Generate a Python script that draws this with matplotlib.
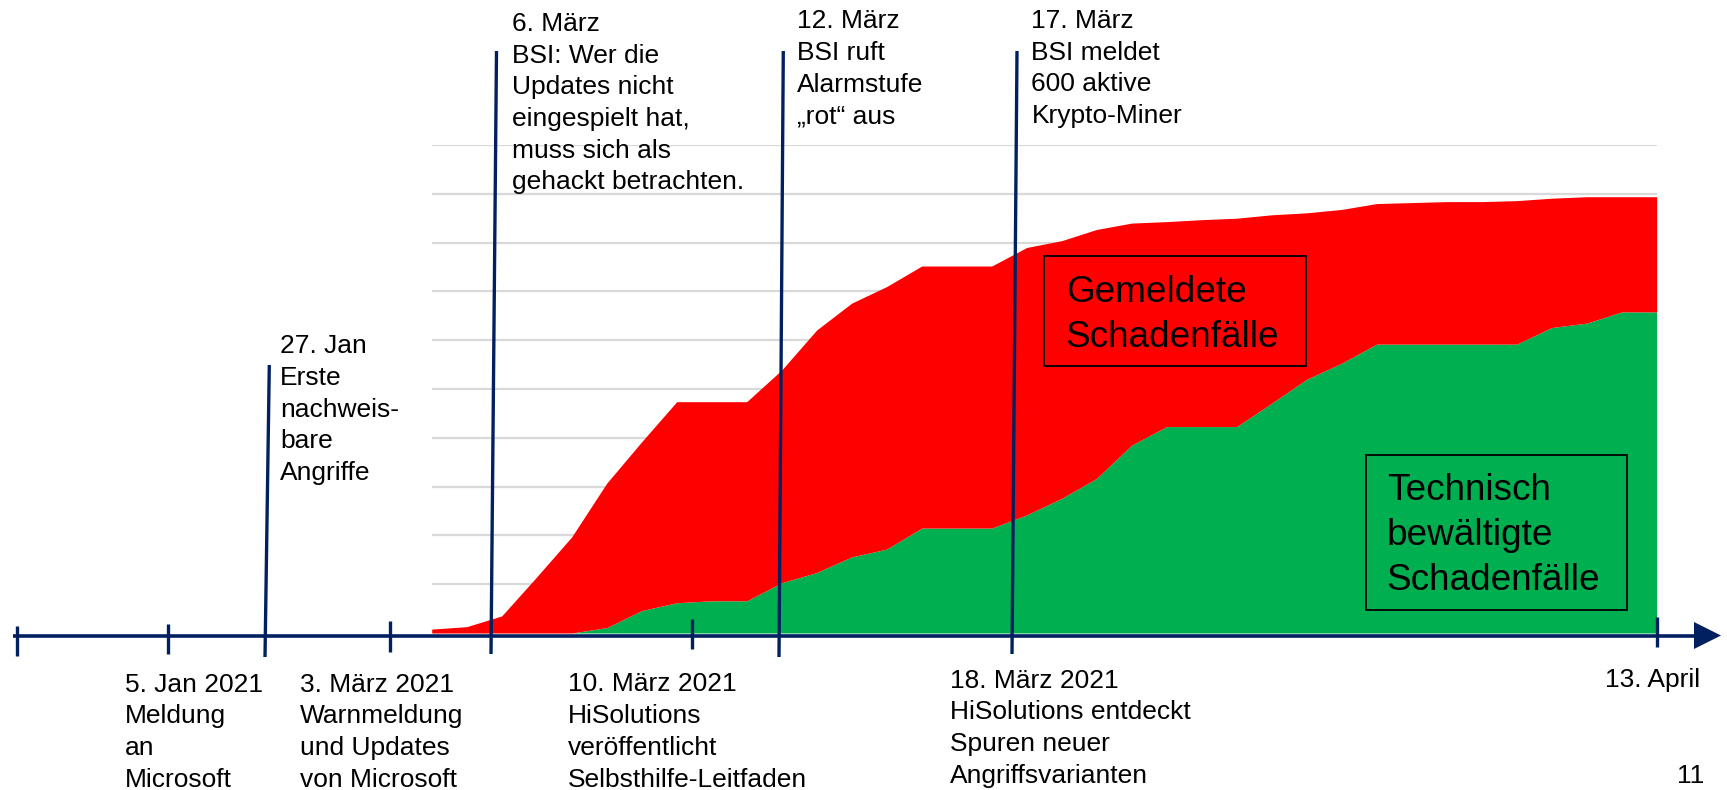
import numpy as np
import matplotlib
matplotlib.use("Agg")
import matplotlib.pyplot as plt
from matplotlib.patches import Polygon, Rectangle

# ---------------- data ----------------
# cumulative reported damage cases (total, red) and technically resolved (green), per report
reported = [0.08, 0.13, 0.35, 1.15, 1.97, 3.07, 3.92, 4.74, 4.74, 4.74,
            5.39, 6.21, 6.76, 7.10, 7.52, 7.52, 7.52, 7.90, 8.04, 8.27,
            8.40, 8.43, 8.47, 8.50, 8.57, 8.61, 8.68, 8.80, 8.82, 8.84,
            8.84, 8.86, 8.91, 8.94, 8.94, 8.94]
resolved = [0.0, 0.0, 0.0, 0.0, 0.0, 0.11, 0.46, 0.62, 0.66, 0.66,
            1.03, 1.24, 1.56, 1.72, 2.15, 2.15, 2.15, 2.42, 2.76, 3.17,
            3.85, 4.23, 4.23, 4.23, 4.71, 5.20, 5.53, 5.92, 5.92, 5.92,
            5.92, 5.92, 6.26, 6.35, 6.58, 6.58]
grid_levels = list(range(1, 11))

top_events = [
    ["27. Jan", "Erste", "nachweis-", "bare", "Angriffe"],
    ["6. März", "BSI: Wer die", "Updates nicht", "eingespielt hat,",
     "muss sich als", "gehackt betrachten."],
    ["12. März", "BSI ruft", "Alarmstufe", "\u201erot\u201c aus"],
    ["17. März", "BSI meldet", "600 aktive", "Krypto-Miner"],
]
bottom_events = [
    ["5. Jan 2021", "Meldung", "an", "Microsoft"],
    ["3. März 2021", "Warnmeldung", "und Updates", "von Microsoft"],
    ["10. März 2021", "HiSolutions", "veröffentlicht", "Selbsthilfe-Leitfaden"],
    ["18. März 2021", "HiSolutions entdeckt", "Spuren neuer", "Angriffsvarianten"],
]
end_label = "13. April"
page_number = "11"
label_reported = ["Gemeldete", "Schadenfälle"]
label_resolved = ["Technisch", "bewältigte", "Schadenfälle"]

# ---------------- styling / layout ----------------
W, H = 1727, 790
NAVY = "#002060"
RED = "#FF0000"
GREEN = "#00B050"
FONT = ["Liberation Sans", "DejaVu Sans"]
SMALL = 19
BIG = 26.6

fig = plt.figure(figsize=(W / 100, H / 100), dpi=100)

# area chart axes (pixel box of the plot area)
x0, x1 = 431.7, 1656.7
y_base, y_top = 633.0, 145.0
ax = fig.add_axes([x0 / W, (H - y_base) / H, (x1 - x0) / W, (y_base - y_top) / H])
xi = np.arange(len(reported))
ax.set_xlim(0, len(reported) - 1)
ax.set_ylim(0, 10)
ax.hlines(grid_levels, 0, len(reported) - 1, color="#d9d9d9", lw=1.6, zorder=0)
ax.fill_between(xi, 0, resolved, color=GREEN, lw=0, zorder=2)
ax.fill_between(xi, resolved, reported, color=RED, lw=0, zorder=2)
ax.axis("off")

# overlay axes in pixel coordinates for the timeline and annotations
ov = fig.add_axes([0, 0, 1, 1])
ov.set_xlim(0, W)
ov.set_ylim(H, 0)
ov.axis("off")
ov.patch.set_alpha(0)

axis_y = 635.5
ov.plot([13, 1700], [axis_y, axis_y], color=NAVY, lw=2.6, solid_capstyle="butt")
ov.add_patch(Polygon([[1694, 622], [1694, 649], [1721, axis_y]], closed=True,
                     color=NAVY, lw=0))

tick_x = [16.7, 168.5, 390.5, 692.0, 1657.0]
tick_top = [626, 624, 621, 619, 617]
tick_bot = [656, 654, 652, 649, 647]
for tx, tt, tb in zip(tick_x, tick_top, tick_bot):
    ov.plot([tx, tx], [tt, tb], color=NAVY, lw=2.4, solid_capstyle="butt")

line_top_x = [269.3, 496.5, 783.3, 1017.0]
line_top_y = [365.0, 51.0, 51.0, 51.0]
line_bot_x = [265.0, 491.0, 779.0, 1012.0]
line_bot_y = [657.0, 654.0, 657.0, 654.0]
for a, b, c, d in zip(line_top_x, line_top_y, line_bot_x, line_bot_y):
    ov.plot([a, c], [b, d], color=NAVY, lw=2.4, solid_capstyle="butt")

step = 31.7
top_x = [280.0, 511.8, 797.0, 1031.4]
top_base = [353.3, 31.0, 28.5, 28.0]
for lines, tx, tb in zip(top_events, top_x, top_base):
    for k, s in enumerate(lines):
        ov.text(tx, tb + k * step, s, fontsize=SMALL, family=FONT,
                ha="left", va="baseline", color="black")

bot_x = [125.0, 299.7, 568.3, 950.0]
bot_base = [691.5, 691.5, 691.0, 687.5]
for lines, tx, tb in zip(bottom_events, bot_x, bot_base):
    for k, s in enumerate(lines):
        ov.text(tx, tb + k * 31.9, s, fontsize=SMALL, family=FONT,
                ha="left", va="baseline", color="black")

ov.text(1700.6, 687.5, end_label, fontsize=SMALL, family=FONT,
        ha="right", va="baseline")
ov.text(1704, 783, page_number, fontsize=SMALL, family=FONT,
        ha="right", va="baseline")

# label boxes
ov.add_patch(Rectangle((1044.3, 256), 261.4, 110, fill=False, ec="black", lw=1.3, zorder=5))
for k, s in enumerate(label_reported):
    ov.text(1065.7, 301.7 + k * 45, s, fontsize=BIG, family=FONT,
            ha="left", va="baseline", zorder=6)
ov.add_patch(Rectangle((1366, 455), 261.3, 155, fill=False, ec="black", lw=1.3, zorder=5))
for k, s in enumerate(label_resolved):
    ov.text(1386.7, 500 + k * 45, s, fontsize=BIG, family=FONT,
            ha="left", va="baseline", zorder=6)

fig.savefig("out.png", dpi=100)
